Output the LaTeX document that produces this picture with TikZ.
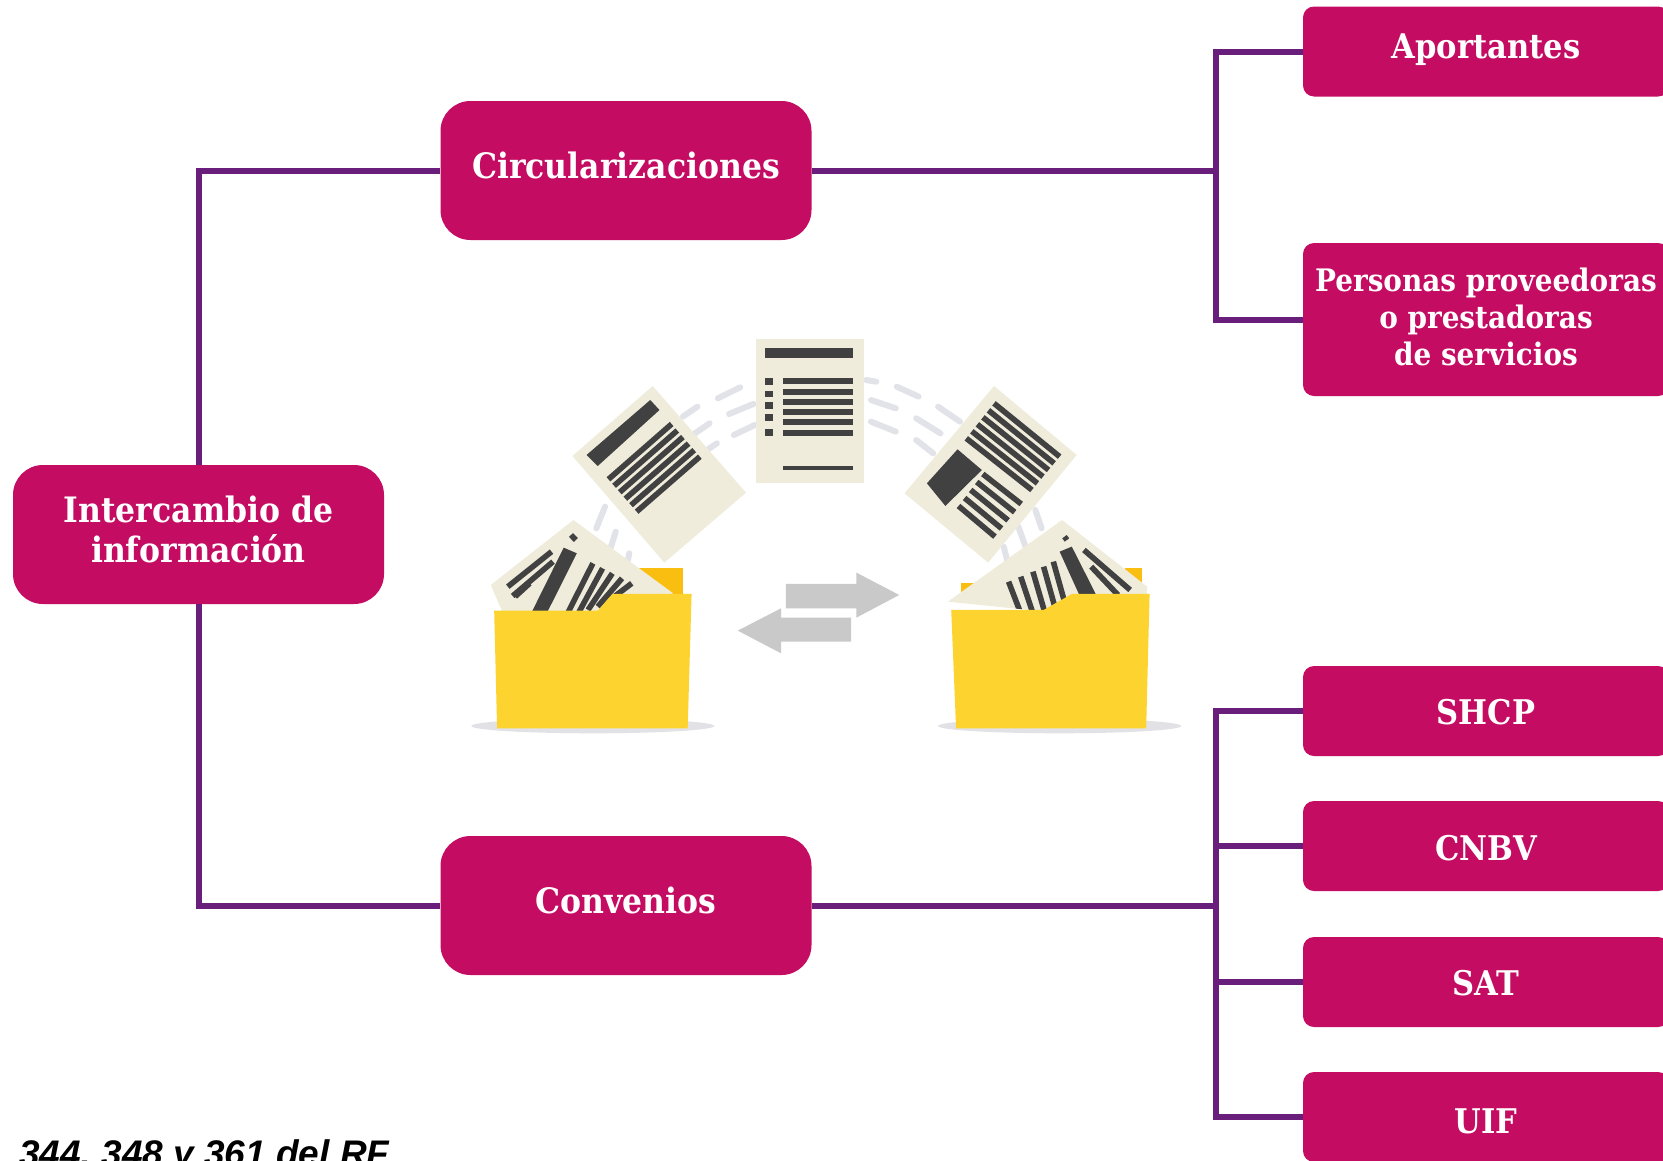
\documentclass[tikz,border=0pt]{standalone}
\usepackage{fontspec}
\setmainfont{DejaVu Serif Condensed}
\newfontfamily\footfont{Liberation Sans}
\definecolor{boxc}{HTML}{C40C63}
\definecolor{linec}{HTML}{6A1E7C}
\definecolor{paperc}{HTML}{F0ECDC}
\definecolor{inkc}{HTML}{414141}
\definecolor{foldc}{HTML}{FDD42F}
\definecolor{tabc}{HTML}{F9BE10}
\definecolor{arrc}{HTML}{C9C9C9}
\definecolor{dashc}{HTML}{E1E3E9}
\definecolor{shadc}{HTML}{E2E2E6}
% baseline of a one-line label lies #1 pt below the centre of its box
\newcommand\blin[1]{\rule[-10pt]{0pt}{\dimexpr 10pt+2\dimexpr #1pt\relax\relax}}
\tikzset{
  bigbox/.style={rectangle,rounded corners=30pt,fill=boxc,text=white,align=center,inner sep=0pt,minimum width=371pt,minimum height=139pt,font=\fontsize{35}{40}\selectfont\bfseries},
  sidebox/.style={rectangle,rounded corners=11pt,fill=boxc,text=white,align=center,inner sep=0pt,minimum width=366pt,minimum height=90pt,font=\fontsize{34}{37}\selectfont\bfseries},
  link/.style={draw=linec,line width=6pt,line join=miter},
  ink/.style={draw=inkc,line width=5.6pt},
  fleck/.style={draw=dashc,line width=6pt,line cap=round},
  paper/.style={fill=paperc},
}
\begin{document}
\begin{tikzpicture}[x=1pt,y=-1pt]
\useasboundingbox (0,0) rectangle (1663,1160);
\clip (0,0) rectangle (1663,1160);
\fill[white] (0,0) rectangle (1663,1160);
% illustration
\begin{scope}[shift={(430,320)},x=0.4862pt,y=-0.3333pt]
 % shadows
 \fill[shadc] (335,1218) ellipse [x radius=250,y radius=22];
 \fill[shadc] (1295,1218) ellipse [x radius=250,y radius=22];
 % flecks
 \draw[fleck] (592,235)--(638,202);
 \draw[fleck] (615,282)--(665,252);
 \draw[fleck] (625,345)--(668,315);
 \draw[fleck] (520,290)--(550,260);
 \draw[fleck] (545,340)--(575,310);
 \draw[fleck] (572,388)--(590,370);
 \draw[fleck] (897,180)--(918,185);
 \draw[fleck] (960,200)--(1005,230);
 \draw[fleck] (907,240)--(958,265);
 \draw[fleck] (907,305)--(958,335);
 \draw[fleck] (1000,295)--(1050,340);
 \draw[fleck] (1045,260)--(1090,305);
 \draw[fleck] (1000,360)--(1035,400);
 \draw[fleck] (360,560)--(342,625);
 \draw[fleck] (382,635)--(368,700);
 \draw[fleck] (410,700)--(403,745);
 \draw[fleck] (1245,570)--(1258,625);
 \draw[fleck] (1210,620)--(1225,680);
 \draw[fleck] (1180,680)--(1192,750);
 % middle page
 \fill[paper] (670,58) rectangle (893,488);
 \fill[inkc] (690,84) rectangle (870,113);
 \foreach \t/\bb in {175/195,212/232,245/266,283/303,326/347}{\fill[inkc] (690,\t) rectangle (706,\bb);}
 \foreach \t in {175,206,236,267,298,329}{\fill[inkc] (727,\t) rectangle (870,\t+18);}
 \fill[inkc] (727,439) rectangle (870,450);
 % left flying page
 \fill[paper] (458,198)--(650,518)--(482,728)--(293,408)--cycle;
 \fill[inkc] (453,240)--(472,270)--(345,438)--(322,405)--cycle;
 \foreach \i in {0,...,5}{\draw[ink] ({497+\i*11.6},{312+\i*19.6})--({367+\i*11.6},{478+\i*19.4});}
 % right flying page
 \fill[paper] (1160,198)--(1330,405)--(1148,728)--(976,520)--cycle;
 \fill[inkc] (1085,388)--(1135,450)--(1060,558)--(1022,490)--cycle;
 \foreach \i in {0,...,5}{\draw[ink] ({1160-\i*11.4},{250+\i*21})--({1295-\i*11.4},{410+\i*20});}
 \foreach \i in {0,...,4}{\draw[ink] ({1137-\i*12.5},{462+\i*24})--({1216-\i*13.5},{552+\i*24.5});}
 % left folder
 \fill[tabc] (415,745)--(520,745)--(520,835)--(415,835)--cycle;
 \fill[paper] (295,600)--(500,820)--(350,880)--(150,880)--(125,795)--cycle;
 \begin{scope}
  \clip (295,600)--(500,820)--(350,880)--(150,880)--(125,795)--cycle;
  \fill[inkc] (275,683)--(302,700)--(240,880)--(208,880)--cycle;
  \draw[ink] (250,695)--(160,800);
  \draw[ink] (253,725)--(170,828);
  \draw[ink] (205,790)--(175,830);
  \draw[ink] (335,730)--(283,880);
  \draw[ink] (355,745)--(305,880);
  \draw[ink] (375,760)--(325,870);
  \draw[ink] (395,775)--(345,860);
  \draw[ink] (415,790)--(370,840);
  \draw[ink] (290,645)--(300,660);
 \end{scope}
 \fill[foldc] (132,872)--(345,872)--(375,822)--(538,822)--(530,1225)--(138,1225)--cycle;
 % right folder
 \fill[tabc] (1092,790)--(1140,790)--(1140,840)--(1092,840)--cycle;
 \fill[tabc] (1430,745)--(1465,745)--(1465,830)--(1430,830)--cycle;
 \fill[paper] (1300,600)--(1475,800)--(1475,830)--(1300,880)--(1065,845)--cycle;
 \begin{scope}
  \clip (1300,600)--(1475,800)--(1475,830)--(1300,880)--(1065,845)--cycle;
  \fill[inkc] (1295,695)--(1320,680)--(1372,830)--(1337,830)--cycle;
  \draw[ink] (1190,785)--(1215,880);
  \draw[ink] (1215,770)--(1240,880);
  \draw[ink] (1240,755)--(1265,880);
  \draw[ink] (1262,740)--(1285,860);
  \draw[ink] (1282,725)--(1305,845);
  \draw[ink] (1345,690)--(1440,810);
  \draw[ink] (1360,740)--(1415,825);
  \draw[ink] (1305,650)--(1310,660);
 \end{scope}
 \fill[foldc] (1072,870)--(1262,870)--(1320,822)--(1480,822)--(1473,1225)--(1082,1225)--cycle;
 % arrows
 \fill[arrc] (732,792)--(877,792)--(877,758)--(965,825)--(877,893)--(877,865)--(732,865)--cycle;
 \fill[arrc] (866,893)--(722,893)--(722,865)--(633,932)--(722,1000)--(722,965)--(866,965)--cycle;
\end{scope}
% nodes
\node[bigbox] (root) at (198.5,534.5) {\rule{0pt}{25pt}Intercambio de\\información\rule[-10pt]{0pt}{0pt}};
\node[bigbox] (circ) at (626,170.5) {\blin{8}Circularizaciones};
\node[bigbox] (conv) at (626,905.5) {\blin{8}Convenios};
\node[sidebox] (apo) at (1486,51.5) {\blin{12}Aportantes};
\node[sidebox,minimum height=153pt,font=\fontsize{31}{37}\selectfont\bfseries] (pers) at (1486,319.5) {\rule{0pt}{27pt}Personas proveedoras\\o prestadoras\\de servicios\rule[-10pt]{0pt}{0pt}};
\node[sidebox] (shcp) at (1486,711) {\blin{18}SHCP};
\node[sidebox] (cnbv) at (1486,846) {\blin{19}CNBV};
\node[sidebox] (sat) at (1486,982) {\blin{18.5}SAT};
\node[sidebox] (uif) at (1486,1117) {\blin{21.5}UIF};
\coordinate (jup) at (1216,170.5);
\coordinate (jlo) at (1216,905.5);
% connectors
\draw[link] (circ.west) -| (root.north);
\draw[link] (conv.west) -| (root.south);
\draw[link] (circ.east) -- (jup);
\draw[link] (conv.east) -- (jlo);
\draw[link] (apo.west) -| (jup) |- (pers.west);
\draw[link] (shcp.west) -| (jlo) |- (uif.west);
\draw[link] (cnbv.west) -- (cnbv.west -| jlo);
\draw[link] (sat.west) -- (sat.west -| jlo);
% footer
\node[anchor=base west,inner sep=0pt,font={\footfont\bfseries\itshape\fontsize{37}{37}\selectfont}] (foot) at (19,1166) {344, 348 y 361 del RF};
\end{tikzpicture}
\end{document}
